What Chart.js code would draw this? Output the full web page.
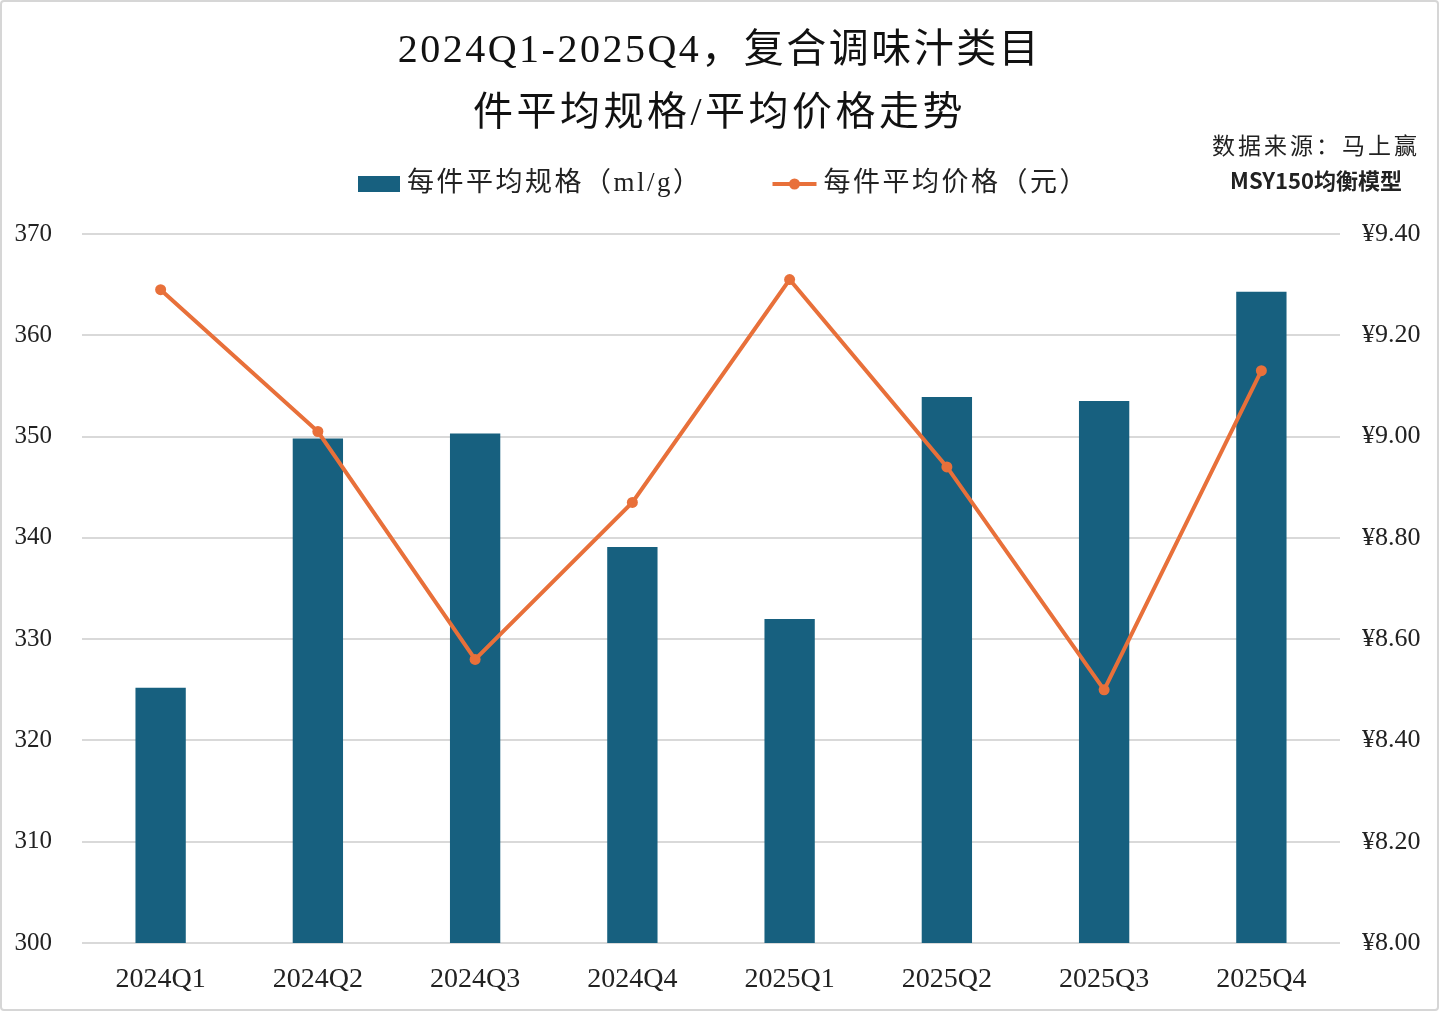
<!DOCTYPE html>
<html>
<head>
<meta charset="utf-8">
<script src="https://cdn.jsdelivr.net/npm/chart.js@4.4.1/dist/chart.umd.min.js"></script>
<style>
  html, body { margin: 0; padding: 0; background: #fff; }
  #wrap {
    position: relative;
    width: 1439px; height: 1011px;
    box-sizing: border-box;
    border: 2px solid #d6d6d6;
    border-radius: 4px;
    background: #fff;
  }
  #chart { display: block; }
  .fuente {
    position: absolute;
    left: 1196px; width: 236px;
    text-align: center;
    font-family: "Noto Sans CJK SC", sans-serif;
    color: #222;
    line-height: 35px;
  }
</style>
</head>
<body>
<div id="wrap">
  <canvas id="chart" width="1435" height="1007"></canvas>
  <div class="fuente" style="top:125px;font-size:23px;letter-spacing:3px;">数据来源：马上赢</div>
  <div class="fuente" style="top:160px;font-size:22px;font-weight:700;">MSY150均衡模型</div>
</div>
<script>
// Datos del gráfico
const trimestres = ["2024Q1", "2024Q2", "2024Q3", "2024Q4", "2025Q1", "2025Q2", "2025Q3", "2025Q4"];
const especPromedio = [325.2, 349.8, 350.3, 339.1, 332.0, 353.9, 353.5, 364.3];
const precioPromedio = [9.29, 9.01, 8.56, 8.87, 9.31, 8.94, 8.50, 9.13];

const nombreBarras = "每件平均规格（ml/g）";
const nombreLinea = "每件平均价格（元）";
const titulo = ["2024Q1-2025Q4，复合调味汁类目", "件平均规格/平均价格走势"];

const colorBarra = "#17607f";
const colorLinea = "#e8703a";
const fuenteBase = "'Liberation Serif', 'Noto Sans CJK SC', serif";

// Título y leyenda dibujados a mano (con espaciado entre letras)
const encabezadoPropio = {
  id: "encabezadoPropio",
  afterDraw(chart) {
    const ctx = chart.ctx;
    ctx.save();

    // título de dos líneas
    ctx.font = "40px " + fuenteBase;
    ctx.fillStyle = "#111";
    ctx.textAlign = "center";
    ctx.textBaseline = "middle";
    ctx.letterSpacing = "2.5px";
    ctx.fillText(titulo[0], chart.width / 2, 49);
    ctx.letterSpacing = "3.5px";
    ctx.fillText(titulo[1], chart.width / 2, 112);

    // leyenda
    ctx.font = "27px " + fuenteBase;
    ctx.letterSpacing = "2.5px";
    ctx.textAlign = "left";
    const y = 182;
    const w1 = ctx.measureText(nombreBarras).width;
    const w2 = ctx.measureText(nombreLinea).width;
    const total = 42 + 7 + w1 + 70 + 44 + 7 + w2;
    let x = chart.width / 2 - total / 2 + 4;

    ctx.fillStyle = colorBarra;
    ctx.fillRect(x, y - 8, 42, 16);
    x += 49;
    ctx.fillStyle = "#222";
    ctx.fillText(nombreBarras, x, y);
    x += w1 + 70;

    ctx.strokeStyle = colorLinea;
    ctx.lineWidth = 4;
    ctx.beginPath();
    ctx.moveTo(x, y);
    ctx.lineTo(x + 44, y);
    ctx.stroke();
    ctx.fillStyle = colorLinea;
    ctx.beginPath();
    ctx.arc(x + 22, y, 5.5, 0, Math.PI * 2);
    ctx.fill();
    x += 51;
    ctx.fillStyle = "#222";
    ctx.fillText(nombreLinea, x, y);
    ctx.restore();
  }
};

new Chart(document.getElementById("chart"), {
  type: "bar",
  data: {
    labels: trimestres,
    datasets: [
      {
        type: "line",
        label: nombreLinea,
        data: precioPromedio,
        yAxisID: "yPrecio",
        borderColor: colorLinea,
        backgroundColor: colorLinea,
        borderWidth: 4,
        pointRadius: 5.5,
        pointHoverRadius: 5.5,
        pointBorderWidth: 0,
        tension: 0,
        order: 0
      },
      {
        type: "bar",
        label: nombreBarras,
        data: especPromedio,
        yAxisID: "yEspec",
        backgroundColor: colorBarra,
        categoryPercentage: 1,
        barPercentage: 0.32,
        order: 1
      }
    ]
  },
  options: {
    responsive: false,
    animation: false,
    layout: { padding: { left: 0, right: 0, top: 232, bottom: 0 } },
    plugins: {
      legend: { display: false },
      tooltip: { enabled: false },
      title: { display: false }
    },
    scales: {
      x: {
        grid: { display: false },
        border: { display: false },
        ticks: {
          color: "#222",
          font: { family: fuenteBase, size: 28 },
          padding: 12
        },
        afterFit(scale) { scale.height = 66; }
      },
      yEspec: {
        position: "left",
        min: 300,
        max: 370,
        ticks: {
          stepSize: 10,
          color: "#222",
          font: { family: fuenteBase, size: 25 },
          padding: 30
        },
        grid: { color: "#d9d9d9", lineWidth: 2, drawTicks: false },
        border: { display: false },
        afterFit(scale) { scale.width = 80; }
      },
      yPrecio: {
        position: "right",
        min: 8,
        max: 9.4,
        ticks: {
          stepSize: 0.2,
          color: "#222",
          font: { family: fuenteBase, size: 26 },
          padding: 22,
          callback: v => "¥" + Number(v).toFixed(2)
        },
        grid: { display: false, drawTicks: false },
        border: { display: false },
        afterFit(scale) { scale.width = 97; }
      }
    }
  },
  plugins: [encabezadoPropio]
});
</script>
</body>
</html>
